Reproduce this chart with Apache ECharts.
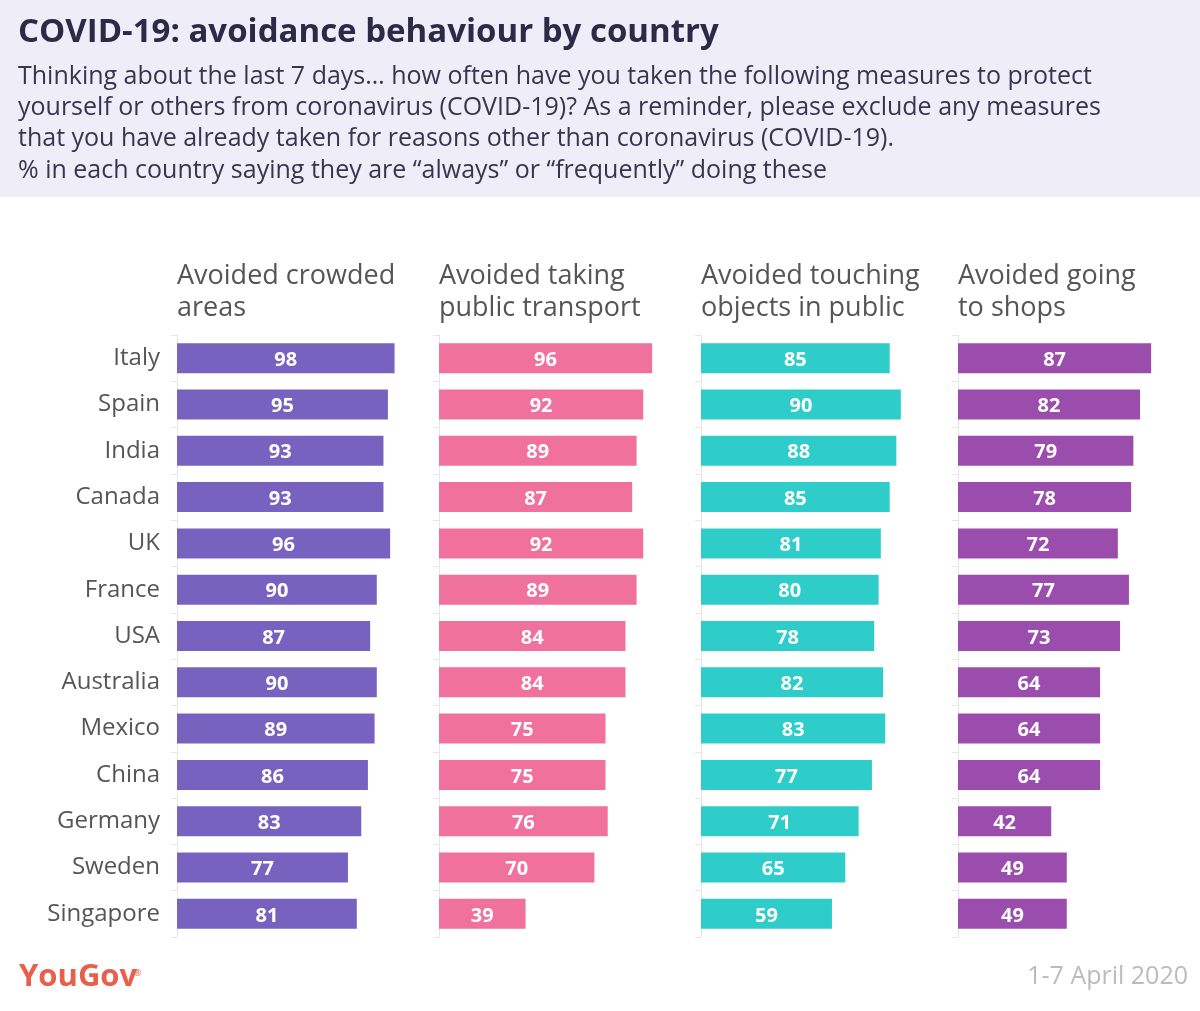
<!DOCTYPE html>
<html><head><meta charset="utf-8">
<script src="https://cdn.jsdelivr.net/npm/echarts@6/dist/echarts.min.js"></script>
<style>html,body{margin:0;padding:0;background:#fff}#c{width:1200px;height:1011px}</style>
</head><body><div id="c"></div>
<script>
const countries = ["Italy","Spain","India","Canada","UK","France","USA","Australia","Mexico","China","Germany","Sweden","Singapore"];
const crowded   = [98,95,93,93,96,90,87,90,89,86,83,77,81];
const transport = [96,92,89,87,92,89,84,84,75,75,76,70,39];
const touching  = [85,90,88,85,81,80,78,82,83,77,71,65,59];
const shops     = [87,82,79,78,72,77,73,64,64,64,42,49,49];
const panelTitles = ["Avoided crowded\nareas","Avoided taking\npublic transport","Avoided touching\nobjects in public","Avoided going\nto shops"];
const colors = ["#7862C0","#F0719C","#2ECDC9","#9B4DAE"];
const seriesData = [crowded, transport, touching, shops];

const lefts = [177, 439, 701, 958];
const FONT = "'Open Sans', Lato, sans-serif";
const chart = echarts.init(document.getElementById('c'), null, {renderer:'canvas'});

const grids = [], xAxes = [], yAxes = [], series = [], titles = [];
titles.push({text:"COVID-19: avoidance behaviour by country", left:13, top:11,
  textStyle:{fontFamily:FONT, fontSize:33, fontWeight:'bold', color:'#2d2a48'}});
titles.push({text:"Thinking about the last 7 days… how often have you taken the following measures to protect\nyourself or others from coronavirus (COVID-19)? As a reminder, please exclude any measures\nthat you have already taken for reasons other than coronavirus (COVID-19).\n% in each country saying they are “always” or “frequently” doing these",
  left:13, top:56, textStyle:{fontFamily:FONT, fontSize:25, fontWeight:'normal', color:'#38364f', lineHeight:31.3}});
for (let i=0;i<4;i++){
  grids.push({left:lefts[i], top:335, width:222, height:602, containLabel:false});
  xAxes.push({type:'value', gridIndex:i, min:0, max:100, show:false});
  yAxes.push({type:'category', gridIndex:i, data:countries, inverse:true,
    axisLine:{show:true, lineStyle:{color:'#e6e6e6', width:1}},
    axisTick:{show:true, length:6, lineStyle:{color:'#e6e6e6'}},
    axisLabel:{show:i===0, fontFamily:FONT, fontSize:24, color:'#555', margin:17}});
  series.push({type:'bar', xAxisIndex:i, yAxisIndex:i, data:seriesData[i], barWidth:30,
    itemStyle:{color:colors[i]}, silent:true,
    label:{show:true, position:'inside', color:'#fff', fontFamily:FONT, fontWeight:'bold', fontSize:20, offset:[0,2]}});
  titles.push({text:panelTitles[i], left:lefts[i]-5, top:255,
    textStyle:{fontFamily:FONT, fontSize:27, fontWeight:'normal', color:'#555', lineHeight:32}});
}
chart.setOption({
  backgroundColor:'#fff',
  animation:false,
  title: titles,
  grid: grids, xAxis: xAxes, yAxis: yAxes, series: series,
  graphic:[
    {type:'rect', z:-10, shape:{x:0,y:0,width:1200,height:197}, style:{fill:'#efedf7'}},
    {type:'text', left:19, top:962, style:{text:'YouGov', fontFamily:FONT, fontSize:31, fontWeight:'bold', fill:'#e8604c'}},
    {type:'text', left:134, top:969, style:{text:'®', fontFamily:FONT, fontSize:9, fill:'#e8604c'}},
    {type:'text', right:12, top:964, style:{text:'1-7 April 2020', fontFamily:FONT, fontSize:25, fill:'#bbbbbb'}}
  ]
});
</script></body></html>
